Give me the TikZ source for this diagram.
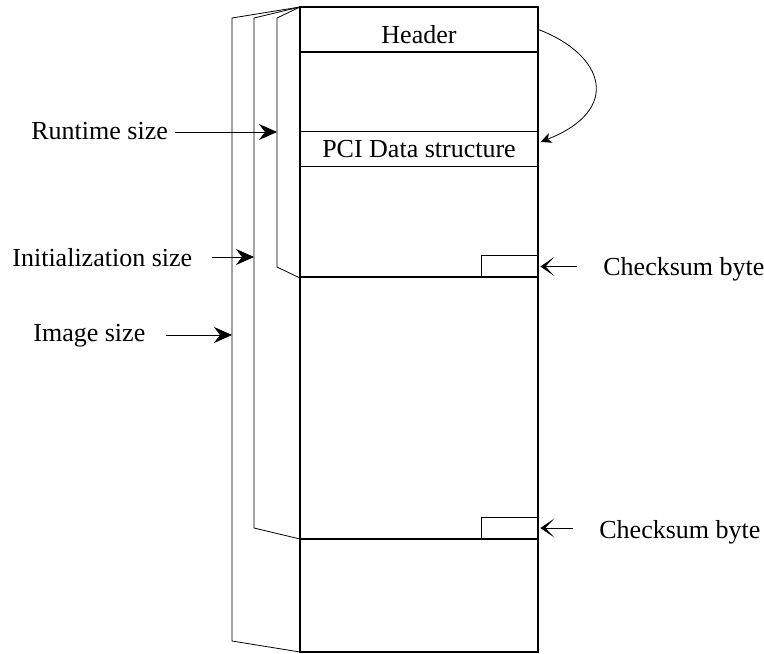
\documentclass[tikz,border=0pt]{standalone}
\usepackage{fontspec}
\setmainfont{Liberation Serif}
\usetikzlibrary{arrows.meta}
\tikzset{sc/.style={x=1pt,y=-1pt,line width=.8pt,font=\fontsize{26}{30}\selectfont},
  fat/.style={line width=2.6pt},
  lbl/.style={anchor=base west,inner sep=0pt},
  szarr/.style={-{Stealth[length=18pt,width=16pt,inset=6pt]}},
  chkarr/.style={-{Stealth[length=14pt,width=19pt,inset=9pt]}}}

\begin{document}
\begin{tikzpicture}[sc]
  \useasboundingbox (0,0) rectangle (764,654);
  % option ROM image
  \draw[fat] (300,7) rectangle (538,652);
  \foreach \y in {52,277,539}{\draw[fat] (300,\y)--(538,\y);}
  \node[minimum width=238pt,minimum height=45pt,inner sep=0pt,text height=29pt] (hdr) at (419,29.5){Header};
  \node[minimum width=238pt,minimum height=34pt,inner sep=0pt] (pci) at (419,148.7){PCI Data structure};
  \draw (pci.north west)--(pci.north east) (pci.south west)--(pci.south east);
  \draw[-{Stealth[length=11pt,width=10pt,inset=3pt]}] (hdr.east) .. controls (605,55) and (622,110) .. ([xshift=2pt,yshift=6.7pt]pci.east);
  % size brackets
  \foreach \x/\b/\t/\n in {277/267/132/rt,254/528/257/ini,232/641/335/img}{\draw (300,7)--(\x,18)--(\x,\b)--(300,\b+11);\coordinate (\n) at (\x,\t);}
  \node[lbl] (rtl) at (31,139){Runtime size};
  \node[lbl] (inil) at (12,266){Initialization size};
  \node[lbl] (imgl) at (33,341){Image size};
  \draw[szarr] ([xshift=7pt]rtl.east |- rt)--(rt);
  \draw[szarr] ([xshift=19pt]inil.east |- ini)--(ini);
  \draw[szarr] ([xshift=20pt]imgl.east |- img)--(img);
  % checksum bytes
  \foreach \y/\b/\lx/\n in {266.5/275/603/cs1,528/538/599/cs2}{
    \node[draw,minimum width=57pt,minimum height=22pt,inner sep=0pt] (\n) at (509.5,\y){};
    \node[lbl] (\n l) at (\lx,\b){Checksum byte};
    \draw[chkarr] ([xshift=-26pt]\n l.west |- \n.east)--([xshift=2pt]\n.east);}
\end{tikzpicture}
\end{document}
